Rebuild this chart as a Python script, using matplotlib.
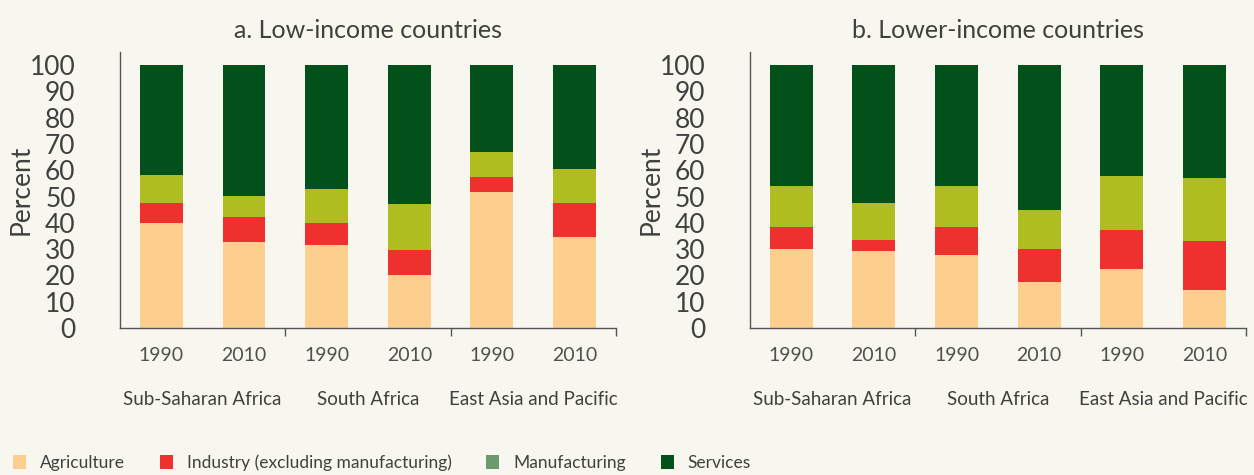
import matplotlib
matplotlib.use("Agg")
import matplotlib.pyplot as plt
from matplotlib.patches import Patch
import numpy as np

# data (percent of GDP by sector)
years = ["1990", "2010", "1990", "2010", "1990", "2010"]
regions = ["Sub-Saharan Africa", "South Africa", "East Asia and Pacific"]
titles = ["a. Low-income countries", "b. Lower-income countries"]

# panel a
agri_a = [40.0, 32.7, 31.5, 20.1, 51.6, 34.5]
ind_a = [7.5, 9.4, 8.5, 9.5, 5.8, 13.0]
manu_a = [10.6, 8.0, 12.8, 17.5, 9.5, 12.9]
# panel b
agri_b = [29.9, 29.2, 27.7, 17.4, 22.3, 14.3]
ind_b = [8.4, 4.2, 10.6, 12.5, 14.9, 18.7]
manu_b = [15.6, 14.1, 15.6, 14.9, 20.5, 24.0]

sectors = ["Agriculture", "Industry (excluding manufacturing)", "Manufacturing", "Services"]
bar_colors = ["#fccf8e", "#ee312e", "#afbd21", "#02511a"]
legend_colors = ["#fccf8e", "#ee312e", "#6b9a6e", "#02511a"]

bg = "#f7f7f0"
txt = "#404040"
plt.rcParams["font.family"] = ["Lato", "DejaVu Sans"]

fig = plt.figure(figsize=(12.54, 4.75), dpi=100, facecolor=bg)
ax_a = fig.add_axes([0.0957, 0.3095, 0.3955, 0.581])
ax_b = fig.add_axes([0.598, 0.3095, 0.3955, 0.581])

x = np.arange(6)
for ax, agri, ind, manu, title in [(ax_a, agri_a, ind_a, manu_a, titles[0]),
                                   (ax_b, agri_b, ind_b, manu_b, titles[1])]:
    ax.set_facecolor(bg)
    agri = np.array(agri)
    ind = np.array(ind)
    manu = np.array(manu)
    serv = 100 - agri - ind - manu
    bottom = np.zeros(6)
    for vals, c in zip([agri, ind, manu, serv], bar_colors):
        ax.bar(x, vals, width=0.52, bottom=bottom, color=c, linewidth=0)
        bottom += vals

    ax.set_xlim(-0.5, 5.5)
    ax.set_ylim(0, 105)
    ax.set_yticks(range(0, 101, 10))
    ax.tick_params(axis="y", length=0, pad=32, labelsize=19, labelcolor=txt)
    ax.set_xticks(x, years)
    ax.tick_params(axis="x", which="major", length=0, pad=14, labelsize=14, labelcolor="#505050")
    ax.set_xticks([1.5, 3.5, 5.5], minor=True)
    ax.tick_params(axis="x", which="minor", length=6, width=1, color="#555555", direction="out")
    for s in ["top", "right"]:
        ax.spines[s].set_visible(False)
    for s in ["left", "bottom"]:
        ax.spines[s].set_color("#555555")
        ax.spines[s].set_linewidth(1)
    ax.set_ylabel("Percent", fontsize=19, color=txt, labelpad=-3)
    ax.set_title(title, fontsize=18, color=txt, pad=10)

    for i, r in enumerate(regions):
        ax.text(2 * i + 0.5, -0.26, r, transform=ax.get_xaxis_transform(),
                ha="center", va="center", fontsize=13.5, color=txt)

handles = [Patch(facecolor=c, edgecolor="none") for c in legend_colors]
fig.legend(handles, sectors, loc="lower left", bbox_to_anchor=(-0.002, -0.025), ncol=4,
           frameon=False, fontsize=12.5, labelcolor=txt, handlelength=0.75,
           handleheight=0.9, handletextpad=0.8, columnspacing=2.0)

fig.savefig("out.png", dpi=100, facecolor=bg)
